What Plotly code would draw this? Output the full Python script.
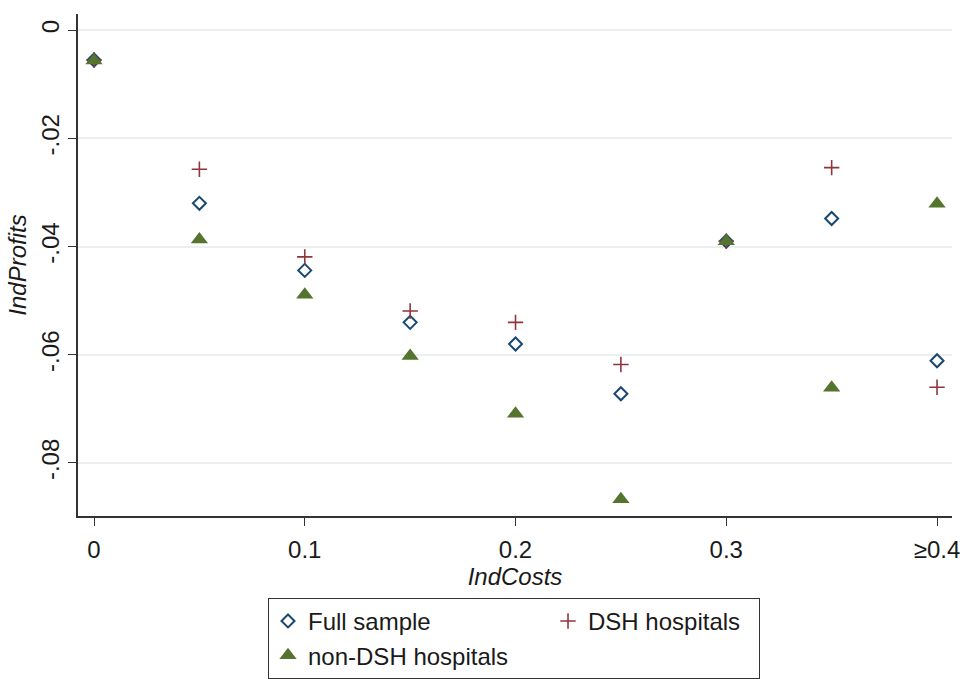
import plotly.graph_objects as go

# IndCosts bins (last bin is the open-ended ">=0.4" group)
ind_costs = [0, 0.05, 0.1, 0.15, 0.2, 0.25, 0.3, 0.35, 0.4]
x_tick_vals = [0, 0.1, 0.2, 0.3, 0.4]
x_tick_text = ["0", "0.1", "0.2", "0.3", "≥0.4"]
y_tick_vals = [0, -0.02, -0.04, -0.06, -0.08]
y_tick_text = ["0", "-.02", "-.04", "-.06", "-.08"]

# Mean IndProfits per bin
full_sample = [-0.0055, -0.0320, -0.0444, -0.0540, -0.0580, -0.0672, -0.0390, -0.0348, -0.0611]
dsh_hospitals = [-0.0055, -0.0257, -0.0419, -0.0519, -0.0540, -0.0618, -0.0390, -0.0254, -0.0660]
non_dsh_hospitals = [-0.0056, -0.0387, -0.0489, -0.0602, -0.0709, -0.0867, -0.0390, -0.0661, -0.0321]

FONT = "Liberation Sans, Arial, sans-serif"
TEXT = "#1a1a1a"

fig = go.Figure()
fig.add_trace(go.Scatter(
    x=ind_costs, y=full_sample, mode="markers", name="Full sample",
    legendgroup="a", legendwidth=235,
    marker=dict(symbol="diamond-open", size=10, color="#1a476f",
                line=dict(width=2, color="#1a476f")),
))
fig.add_trace(go.Scatter(
    x=ind_costs, y=dsh_hospitals, mode="markers", name="DSH hospitals",
    legendgroup="b", legendwidth=166,
    marker=dict(symbol="cross-thin", size=11, color="#90353b",
                line=dict(width=1.6, color="#90353b")),
))
fig.add_trace(go.Scatter(
    x=ind_costs, y=non_dsh_hospitals, mode="markers", name="non-DSH hospitals",
    legendgroup="a", legendwidth=235,
    marker=dict(symbol="triangle-up", size=15, color="#55752f",
                line=dict(width=0)),
))

fig.update_layout(
    width=967, height=679,
    margin=dict(l=78, r=15, t=14, b=163, autoexpand=False),
    paper_bgcolor="white", plot_bgcolor="white",
    font=dict(family=FONT, size=24, color=TEXT),
    showlegend=True,
    legend=dict(
        orientation="h", traceorder="grouped",
        x=0.2174, xanchor="left", y=-0.163, yanchor="top",
        bordercolor="#333333", borderwidth=1, bgcolor="white",
        font=dict(family=FONT, size=24, color=TEXT),
        itemwidth=30,
    ),
)

fig.update_xaxes(
    range=[-0.0076, 0.4071],
    tickmode="array", tickvals=x_tick_vals, ticktext=x_tick_text,
    ticks="outside", ticklen=8, tickwidth=1, tickcolor="#333333",
    ticklabelstandoff=3,
    showline=True, linecolor="#333333", linewidth=1.5,
    showgrid=False, zeroline=False,
    tickfont=dict(family=FONT, size=24, color=TEXT),
    title=dict(text="<i>IndCosts</i>", font=dict(family=FONT, size=24, color=TEXT), standoff=0),
)
fig.update_yaxes(
    range=[-0.0898, 0.003],
    tickmode="array", tickvals=y_tick_vals, ticktext=y_tick_text,
    tickangle=-90,
    ticks="outside", ticklen=8, tickwidth=1, tickcolor="#333333",
    showline=True, linecolor="#333333", linewidth=1.5,
    showgrid=True, gridcolor="#ebefef", gridwidth=1.5,
    zeroline=False,
    tickfont=dict(family=FONT, size=24, color=TEXT),
    title=dict(text="<i>IndProfits</i>", font=dict(family=FONT, size=24, color=TEXT), standoff=3),
)

fig.write_html("out.html")
